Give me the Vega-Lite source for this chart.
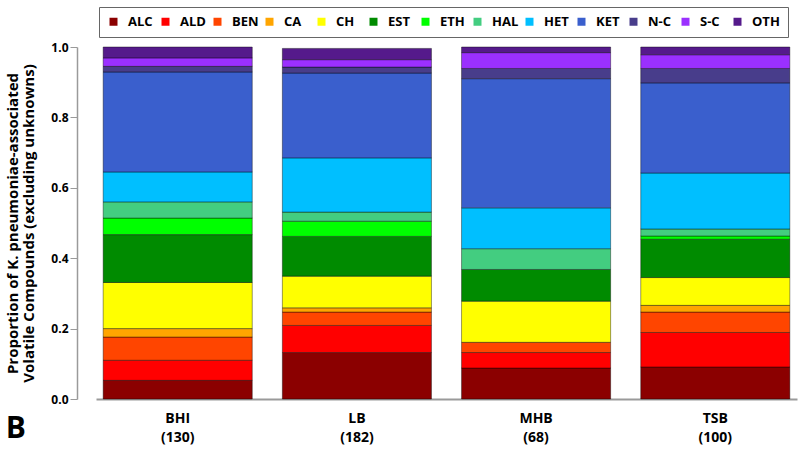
{
  "$schema": "https://vega.github.io/schema/vega-lite/v6.json",
  "autosize": {"type": "none"},
  "width": 701,
  "height": 352,
  "padding": {"left": 96, "top": 47, "right": 3, "bottom": 52},
  "background": "white",
  "config": {
    "font": "Open Sans",
    "view": {"stroke": null}
  },
  "title": {
    "text": "B",
    "orient": "bottom",
    "anchor": "start",
    "frame": "bounds",
    "fontSize": 30,
    "fontWeight": "bold",
    "font": "Open Sans",
    "color": "#000",
    "offset": -30
  },
  "data": {
    "values": [
      {"medium": "BHI (130)", "class": "ALC", "p": 0.053},
      {"medium": "BHI (130)", "class": "ALD", "p": 0.057},
      {"medium": "BHI (130)", "class": "BEN", "p": 0.066},
      {"medium": "BHI (130)", "class": "CA", "p": 0.024},
      {"medium": "BHI (130)", "class": "CH", "p": 0.131},
      {"medium": "BHI (130)", "class": "EST", "p": 0.136},
      {"medium": "BHI (130)", "class": "ETH", "p": 0.047},
      {"medium": "BHI (130)", "class": "HAL", "p": 0.046},
      {"medium": "BHI (130)", "class": "HET", "p": 0.085},
      {"medium": "BHI (130)", "class": "KET", "p": 0.284},
      {"medium": "BHI (130)", "class": "N-C", "p": 0.016},
      {"medium": "BHI (130)", "class": "S-C", "p": 0.024},
      {"medium": "BHI (130)", "class": "OTH", "p": 0.031},
      {"medium": "LB (182)", "class": "ALC", "p": 0.132},
      {"medium": "LB (182)", "class": "ALD", "p": 0.077},
      {"medium": "LB (182)", "class": "BEN", "p": 0.038},
      {"medium": "LB (182)", "class": "CA", "p": 0.012},
      {"medium": "LB (182)", "class": "CH", "p": 0.090},
      {"medium": "LB (182)", "class": "EST", "p": 0.113},
      {"medium": "LB (182)", "class": "ETH", "p": 0.043},
      {"medium": "LB (182)", "class": "HAL", "p": 0.026},
      {"medium": "LB (182)", "class": "HET", "p": 0.154},
      {"medium": "LB (182)", "class": "KET", "p": 0.241},
      {"medium": "LB (182)", "class": "N-C", "p": 0.017},
      {"medium": "LB (182)", "class": "S-C", "p": 0.021},
      {"medium": "LB (182)", "class": "OTH", "p": 0.032},
      {"medium": "MHB (68)", "class": "ALC", "p": 0.088},
      {"medium": "MHB (68)", "class": "ALD", "p": 0.044},
      {"medium": "MHB (68)", "class": "BEN", "p": 0.029},
      {"medium": "MHB (68)", "class": "CH", "p": 0.117},
      {"medium": "MHB (68)", "class": "EST", "p": 0.090},
      {"medium": "MHB (68)", "class": "HAL", "p": 0.059},
      {"medium": "MHB (68)", "class": "HET", "p": 0.116},
      {"medium": "MHB (68)", "class": "KET", "p": 0.367},
      {"medium": "MHB (68)", "class": "N-C", "p": 0.029},
      {"medium": "MHB (68)", "class": "S-C", "p": 0.045},
      {"medium": "MHB (68)", "class": "OTH", "p": 0.016},
      {"medium": "TSB (100)", "class": "ALC", "p": 0.091},
      {"medium": "TSB (100)", "class": "ALD", "p": 0.098},
      {"medium": "TSB (100)", "class": "BEN", "p": 0.058},
      {"medium": "TSB (100)", "class": "CA", "p": 0.019},
      {"medium": "TSB (100)", "class": "CH", "p": 0.079},
      {"medium": "TSB (100)", "class": "EST", "p": 0.109},
      {"medium": "TSB (100)", "class": "ETH", "p": 0.009},
      {"medium": "TSB (100)", "class": "HAL", "p": 0.020},
      {"medium": "TSB (100)", "class": "HET", "p": 0.159},
      {"medium": "TSB (100)", "class": "KET", "p": 0.256},
      {"medium": "TSB (100)", "class": "N-C", "p": 0.041},
      {"medium": "TSB (100)", "class": "S-C", "p": 0.039},
      {"medium": "TSB (100)", "class": "OTH", "p": 0.022}
    ]
  },
  "transform": [
    {"calculate": "indexof(['ALC','ALD','BEN','CA','CH','EST','ETH','HAL','HET','KET','N-C','S-C','OTH'], datum.class)", "as": "stack_rank"}
  ],
  "mark": {"type": "bar", "stroke": "#000", "strokeOpacity": 0.4, "strokeWidth": 1},
  "encoding": {
    "x": {
      "field": "medium",
      "type": "nominal",
      "sort": null,
      "scale": {"paddingInner": 0.168, "paddingOuter": 0.04},
      "axis": {
        "title": null,
        "labelAngle": 0,
        "ticks": false,
        "domainColor": "#9a9a9a",
        "domainWidth": 2,
        "labelExpr": "split(datum.label, ' ')",
        "labelFont": "Open Sans",
        "labelFontSize": 14,
        "labelFontWeight": "bold",
        "labelColor": "#000",
        "labelLineHeight": 19,
        "labelPadding": 12
      }
    },
    "y": {
      "field": "p",
      "type": "quantitative",
      "stack": "zero",
      "scale": {"domain": [0, 1], "nice": false},
      "axis": {
        "title": ["Proportion of K. pneumoniae-associated", "Volatile Compounds (excluding unknowns)"],
        "titleFont": "Open Sans",
        "titleFontSize": 15,
        "titleFontWeight": "bold",
        "titleColor": "#000",
        "titlePadding": 14,
        "titleLineHeight": 16,
        "values": [0, 0.2, 0.4, 0.6, 0.8, 1.0],
        "format": ".1f",
        "grid": false,
        "offset": 19,
        "domainColor": "#9a9a9a",
        "domainWidth": 1.5,
        "tickColor": "#9a9a9a",
        "tickSize": 7,
        "labelFont": "Open Sans",
        "labelFontSize": 12,
        "labelFontWeight": "bold",
        "labelColor": "#000",
        "labelPadding": 2
      }
    },
    "order": {"field": "stack_rank", "type": "quantitative", "sort": "ascending"},
    "color": {
      "field": "class",
      "type": "nominal",
      "scale": {
        "domain": ["ALC", "ALD", "BEN", "CA", "CH", "EST", "ETH", "HAL", "HET", "KET", "N-C", "S-C", "OTH"],
        "range": ["#8B0000", "#FF0000", "#FF4500", "#FFA500", "#FFFF00", "#008B00", "#00FF00", "#43CD80", "#00BFFF", "#3A5FCD", "#483D8B", "#9B30FF", "#551A8B"]
      },
      "legend": {
        "title": null,
        "values": ["ALC", "ALD", "BEN", "CA", "CH", "EST", "ETH", "HAL", "HET", "KET", "N-C", "S-C", "OTH"],
        "orient": "none",
        "legendX": 3,
        "legendY": -40,
        "direction": "horizontal",
        "columns": 13,
        "gridAlign": "all",
        "columnPadding": 3,
        "symbolType": "square",
        "symbolSize": 64,
        "symbolStrokeWidth": 0,
        "labelFont": "Open Sans",
        "labelFontSize": 13,
        "labelFontWeight": "bold",
        "labelColor": "#000",
        "labelOffset": 8,
        "padding": 8,
        "strokeColor": "#666"
      }
    }
  }
}
